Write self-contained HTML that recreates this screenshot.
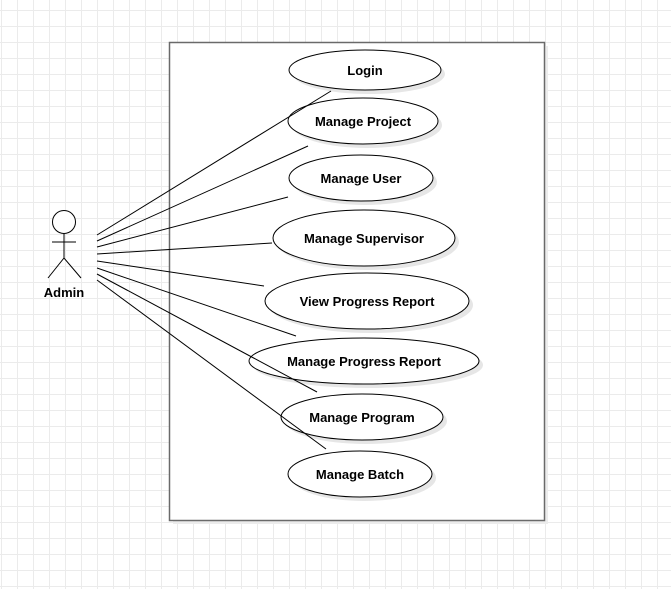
<!DOCTYPE html>
<html><head><style>
html,body{margin:0;padding:0;background:#fff;width:671px;height:589px;overflow:hidden}
svg{display:block}
text{font-family:"Liberation Sans",Arial,sans-serif;font-weight:bold;font-size:13px;fill:#000}
</style></head><body>
<svg width="671" height="589" xmlns="http://www.w3.org/2000/svg">
<defs>
<pattern id="g" x="1" y="10" width="16" height="16" patternUnits="userSpaceOnUse">
<path d="M0 0.5H16M0.5 0V16" stroke="#ebebeb" stroke-width="1" fill="none"/>
</pattern>
</defs>
<rect width="671" height="589" fill="url(#g)"/>
<rect x="173" y="46" width="375" height="478" fill="#ececec"/>
<rect x="169.5" y="42.5" width="375" height="478" fill="#fff" stroke="#6a6a6a" stroke-width="1.5"/>
<g fill="#e6e6e6">
<ellipse cx="369" cy="74" rx="76" ry="20"/>
<ellipse cx="367" cy="125" rx="75" ry="23"/>
<ellipse cx="365" cy="182" rx="72" ry="23"/>
<ellipse cx="368" cy="242" rx="91" ry="28"/>
<ellipse cx="371" cy="305" rx="102" ry="28"/>
<ellipse cx="368" cy="365" rx="115" ry="23"/>
<ellipse cx="366" cy="421" rx="81" ry="23"/>
<ellipse cx="364" cy="478" rx="72" ry="23"/>
</g>
<g fill="#fff" stroke="#000" stroke-width="1">
<ellipse cx="365" cy="70" rx="76" ry="20"/>
<ellipse cx="363" cy="121" rx="75" ry="23"/>
<ellipse cx="361" cy="178" rx="72" ry="23"/>
<ellipse cx="364" cy="238" rx="91" ry="28"/>
<ellipse cx="367" cy="301" rx="102" ry="28"/>
<ellipse cx="364" cy="361" rx="115" ry="23"/>
<ellipse cx="362" cy="417" rx="81" ry="23"/>
<ellipse cx="360" cy="474" rx="72" ry="23"/>
</g>
<g stroke="#000" stroke-width="1">
<line x1="97" y1="235" x2="331" y2="91"/>
<line x1="97" y1="241" x2="308" y2="146"/>
<line x1="97" y1="247" x2="288" y2="197"/>
<line x1="97" y1="254" x2="272" y2="243"/>
<line x1="97" y1="261" x2="264" y2="286"/>
<line x1="97" y1="268" x2="296" y2="336"/>
<line x1="97" y1="274" x2="317" y2="392"/>
<line x1="97" y1="280" x2="326" y2="449"/>
</g>
<g text-anchor="middle">
<text x="365" y="75">Login</text>
<text x="363" y="126">Manage Project</text>
<text x="361" y="183">Manage User</text>
<text x="364" y="243">Manage Supervisor</text>
<text x="367" y="306">View Progress Report</text>
<text x="364" y="366">Manage Progress Report</text>
<text x="362" y="422">Manage Program</text>
<text x="360" y="479">Manage Batch</text>
<text x="64" y="297">Admin</text>
</g>
<g stroke="#000" stroke-width="1" fill="#fff">
<circle cx="64" cy="222" r="11.5"/>
<path d="M64 234V258M52 242H76M48 278L64 258L81 278" fill="none"/>
</g>
</svg>
</body></html>
